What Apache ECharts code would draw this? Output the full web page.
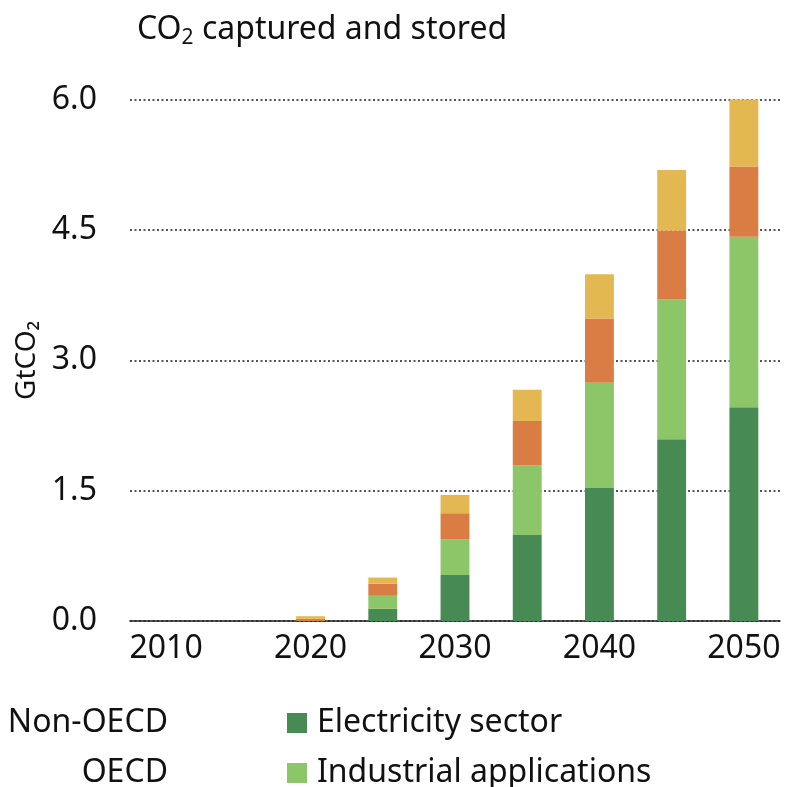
<!DOCTYPE html>
<html>
<head>
<meta charset="utf-8">
<script src="https://cdn.jsdelivr.net/npm/echarts@6/dist/echarts.min.js"></script>
<style>
html,body{margin:0;padding:0;background:#fff;}
#chart{width:786px;height:787px;}
</style>
</head>
<body>
<div id="chart"></div>
<script>
const years = ['2010','2015','2020','2025','2030','2035','2040','2045','2050'];
const electricity = [0, 0, 0, 0.14, 0.53, 0.99, 1.53, 2.09, 2.46];
const industrial  = [0, 0, 0, 0.15, 0.41, 0.80, 1.21, 1.61, 1.96];
const nonOECD     = [0, 0, 0.025, 0.14, 0.30, 0.51, 0.74, 0.79, 0.81];
const oecd        = [0, 0, 0.03, 0.07, 0.21, 0.36, 0.51, 0.70, 0.77];
const yTicks = [0, 1.5, 3.0, 4.5, 6.0];

const FONT = 'Noto Sans';
const chart = echarts.init(document.getElementById('chart'));

function bar(name, data, color) {
  return {
    name: name, type: 'bar', stack: 'total',
    data: data.map(function (v) { return v === 0 ? null : v; }),
    barWidth: '40%',
    itemStyle: {color: color},
    emphasis: {disabled: true}
  };
}

function legendItem(name, pos, top, withIcon) {
  const l = {
    data: [name], top: top, itemHeight: 20, selectedMode: false,
    textStyle: {fontFamily: FONT, fontSize: 32, color: '#111', lineHeight: 36}
  };
  Object.assign(l, pos);
  if (withIcon) {
    l.icon = 'rect'; l.itemWidth = 20;
    l.textStyle.padding = [0, 0, 0, 5];
  } else {
    l.icon = 'none'; l.itemWidth = 0;
  }
  return l;
}

chart.setOption({
  animation: false,
  textStyle: {fontFamily: FONT},
  title: {
    text: '{a|CO}{s|2}{a| captured and stored}',
    left: 132, top: 6,
    textStyle: {
      fontWeight: 'normal',
      rich: {
        a: {fontFamily: FONT, fontSize: 32, fontWeight: 'normal', color: '#111', lineHeight: 38},
        s: {fontFamily: FONT, fontSize: 21, fontWeight: 'normal', color: '#111', padding: [16, 0, 0, 0], lineHeight: 38}
      }
    }
  },
  legend: [
    legendItem('Non-OECD', {right: 613}, 700, false),
    legendItem('OECD', {right: 613}, 750, false),
    legendItem('Electricity sector', {left: 282}, 700, true),
    legendItem('Industrial applications', {left: 282}, 750, true)
  ],
  grid: {left: 130, right: 6, top: 99.5, bottom: 166, containLabel: false},
  xAxis: {
    type: 'category', data: years,
    axisLine: {show: true, lineStyle: {color: '#222', width: 1.5}},
    axisTick: {show: false},
    axisLabel: {interval: 1, fontFamily: FONT, fontSize: 32, color: '#111', margin: 12}
  },
  yAxis: {
    type: 'value', min: 0, max: 6, interval: 1.5,
    name: 'GtCO₂', nameLocation: 'middle', nameRotate: 90, nameGap: 88,
    nameTextStyle: {fontFamily: FONT, fontSize: 28, color: '#111'},
    axisLine: {show: false}, axisTick: {show: false},
    axisLabel: {
      fontFamily: FONT, fontSize: 32, color: '#111', margin: 33,
      formatter: function (v) { return yTicks.indexOf(v) >= 0 ? v.toFixed(1) : ''; }
    },
    splitLine: {show: true, lineStyle: {color: '#555', width: 2, type: [2, 2.5]}}
  },
  series: [
    bar('Electricity sector', electricity, '#488a54'),
    bar('Industrial applications', industrial, '#8cc668'),
    bar('Non-OECD', nonOECD, '#d97d45'),
    bar('OECD', oecd, '#e3b852')
  ]
});
</script>
</body>
</html>
